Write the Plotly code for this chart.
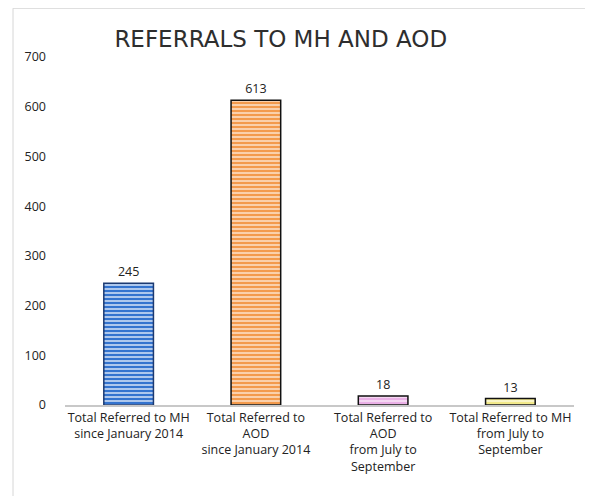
import plotly.graph_objects as go

categories = [
    "Total Referred to MH<br>since January 2014",
    "Total Referred to<br>AOD<br>since January 2014",
    "Total Referred to<br>AOD<br>from July to<br>September",
    "Total Referred to MH<br>from July to<br>September",
]
values = [245, 613, 18, 13]
y_ticks = [0, 100, 200, 300, 400, 500, 600, 700]

stripe = ["#3474cf", "#f39a4c", "#eab0e6", "#f2e98a"]
fill = ["#e2ecfa", "#fde8d4", "#fbeaf8", "#fdfbe2"]
edge = ["#1c3a72", "#111111", "#111111", "#111111"]

fig = go.Figure()
for cat, val, fg, bg, ln in zip(categories, values, stripe, fill, edge):
    fig.add_trace(go.Bar(
        x=[cat],
        y=[val],
        text=[str(val)],
        textposition="outside",
        cliponaxis=False,
        textfont=dict(size=12.5, color="#222"),
        marker=dict(
            color=bg,
            line=dict(color=ln, width=1.5),
            pattern=dict(shape="-", fgcolor=fg, bgcolor=bg, fgopacity=1,
                         size=4, solidity=0.65),
        ),
    ))

# page has an 8px body margin, so pixel targets are shifted by 8
W0, W1 = 65, 574
def px2paper(x):
    return (x - W0) / (W1 - W0)

fig.add_shape(type="rect", xref="paper", yref="paper",
              x0=px2paper(13), x1=px2paper(590), y0=-0.3, y1=1.14,
              line=dict(color="#d6d6d6", width=1))

fig.update_layout(
    width=593, height=496,
    margin=dict(l=57, r=27, t=49, b=99),
    paper_bgcolor="white", plot_bgcolor="white",
    font=dict(family="Open Sans, Liberation Sans, sans-serif", size=12.5, color="#222"),
    title=dict(text="REFERRALS TO MH AND AOD", x=0.46, xanchor="center", y=0.937, yanchor="middle",
               font=dict(family="DejaVu Sans, sans-serif", size=23, color="#2e2e2e")),
    barmode="overlay",
    bargap=0.61,
    showlegend=False,
)
fig.update_yaxes(range=[0, 700], tickvals=y_ticks, showgrid=False, zeroline=False,
                 showline=False, ticklabelstandoff=18, tickfont=dict(size=12.5, color="#222"))
fig.update_xaxes(showline=True, linecolor="#c8c8c8", linewidth=1.5, tickfont=dict(size=12.5, color="#222"),
                 categoryorder="array", categoryarray=categories)

fig.write_html("out.html")
